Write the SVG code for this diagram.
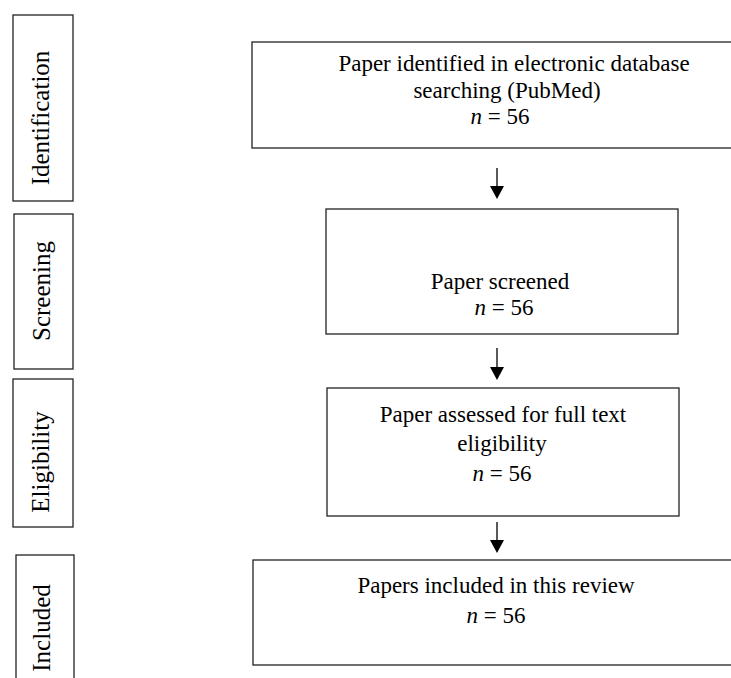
<svg xmlns="http://www.w3.org/2000/svg" width="731" height="678" viewBox="0 0 731 678">
<style>
.box{fill:#fff;stroke:#222;stroke-width:1.3}
.t{font-family:"Liberation Serif","Times New Roman",serif;font-size:23px;fill:#000;text-anchor:middle}
.lab{font-family:"Liberation Serif","Times New Roman",serif;font-size:25px;fill:#000;text-anchor:middle}
.it{font-style:italic}
.conn line{stroke:#000;stroke-width:1.3}
.conn polygon{fill:#000}
</style>
<rect width="731" height="678" fill="#fff"/>
<g id="stage-identification">
<rect class="box" x="13" y="15" width="60" height="186"/>
<text class="lab" transform="translate(49,118) rotate(-90)">Identification</text>
</g>
<g id="stage-screening">
<rect class="box" x="14" y="214" width="59" height="155"/>
<text class="lab" transform="translate(50,291) rotate(-90)">Screening</text>
</g>
<g id="stage-eligibility">
<rect class="box" x="13" y="379" width="60" height="148"/>
<text class="lab" transform="translate(49,462) rotate(-90)">Eligibility</text>
</g>
<g id="stage-included">
<rect class="box" x="16" y="555" width="58" height="140"/>
<text class="lab" transform="translate(50,628) rotate(-90)">Included</text>
</g>
<g id="node-identified">
<rect class="box" x="252" y="42" width="500" height="106"/>
<text class="t" x="514" y="71">Paper identified in electronic database</text>
<text class="t" x="507" y="98">searching (PubMed)</text>
<text class="t" x="500" y="124"><tspan class="it">n</tspan> = 56</text>
</g>
<g id="node-screened">
<rect class="box" x="326" y="209" width="352" height="125"/>
<text class="t" x="500" y="289">Paper screened</text>
<text class="t" x="504" y="315"><tspan class="it">n</tspan> = 56</text>
</g>
<g id="node-eligibility">
<rect class="box" x="327" y="388" width="352" height="128"/>
<text class="t" x="503" y="422">Paper assessed for full text</text>
<text class="t" x="502" y="451">eligibility</text>
<text class="t" x="502" y="481"><tspan class="it">n</tspan> = 56</text>
</g>
<g id="node-included">
<rect class="box" x="253" y="560" width="500" height="105"/>
<text class="t" x="496" y="593">Papers included in this review</text>
<text class="t" x="496" y="623"><tspan class="it">n</tspan> = 56</text>
</g>
<g class="conn" id="connectors">
<line x1="497" y1="168" x2="497" y2="188"/>
<polygon points="490,186 504,186 497,199"/>
<line x1="497" y1="348" x2="497" y2="369"/>
<polygon points="490,367 504,367 497,380"/>
<line x1="497" y1="522" x2="497" y2="542"/>
<polygon points="490,540 504,540 497,553"/>
</g>
</svg>
